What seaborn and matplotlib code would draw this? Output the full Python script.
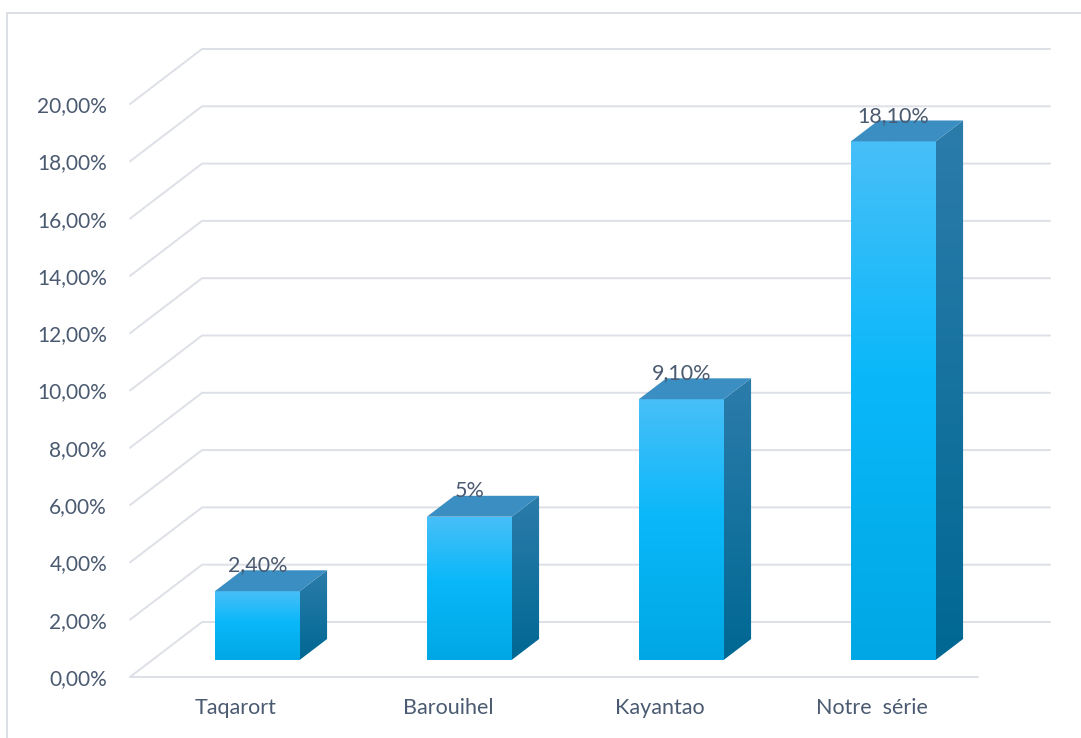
import numpy as np
import pandas as pd
import matplotlib
matplotlib.use("Agg")
import matplotlib.pyplot as plt
from matplotlib.patches import Polygon, Rectangle
from matplotlib.colors import LinearSegmentedColormap
import seaborn as sns

# ---- data ----
categories = ["Taqarort", "Barouihel", "Kayantao", "Notre  série"]
values = [2.4, 5.0, 9.1, 18.1]
value_labels = ["2,40%", "5%", "9,10%", "18,10%"]
y_ticks = [0, 2, 4, 6, 8, 10, 12, 14, 16, 18, 20]
y_tick_labels = ["0,00%", "2,00%", "4,00%", "6,00%", "8,00%", "10,00%",
                 "12,00%", "14,00%", "16,00%", "18,00%", "20,00%"]

# ---- style ----
sns.set_theme(style="white")
plt.rcParams["font.family"] = ["Lato", "DejaVu Sans"]
TEXT = "#4A5A70"
GRID = "#DDE0E6"

front_cmap = LinearSegmentedColormap.from_list(
    "front", [(0.0, "#48BFF8"), (0.45, "#0AB8FA"), (1.0, "#00A7E4")])
side_cmap = LinearSegmentedColormap.from_list(
    "side", ["#2C7CAA", "#006893"])
TOP_COLOR = "#3A8EC2"

W, H = 1081, 738
fig = plt.figure(figsize=(W / 100, H / 100), dpi=100)
fig.patch.set_facecolor("white")

# oblique projection: depth offsets in data units
ddx = 0.34          # categories
ddy = 1.92          # percent
xmin, xmax = -0.5, 3.5 + ddx
ymin, ymax = 0.0, 22.0
unit_x, unit_y = 212.0, 28.65   # pixels per data unit
ax = fig.add_axes([130 / W, (H - 677) / H,
                   (xmax - xmin) * unit_x / W, (ymax - ymin) * unit_y / H])

# ---- bars (front faces) ----
df = pd.DataFrame({"category": categories, "value": values})
sns.barplot(data=df, x="category", y="value", width=0.4, ax=ax,
            color="#00B0F0", zorder=3)

# back wall / side wall gridlines
for v in y_ticks:
    ax.plot([xmin, xmin + ddx, xmax], [v, v + ddy, v + ddy], color=GRID,
            lw=1.4, zorder=0, clip_on=False, solid_joinstyle="miter")
ax.plot([xmin, 3.5], [0, 0], color=GRID, lw=1.4, zorder=0, clip_on=False)

d0, d1 = 0.31, 0.69   # bars sit in the middle of the floor depth
dd = d1 - d0
grad = np.linspace(0, 1, 256).reshape(-1, 1)

for p, lab in zip(ax.patches, value_labels):
    x, w, h = p.get_x(), p.get_width(), p.get_height()
    x0 = x + d0 * ddx - 0.005
    y0 = d0 * ddy
    p.set_x(x0)
    p.set_y(y0)
    p.set_facecolor("none")
    p.set_edgecolor("none")
    x1, y1 = x0 + w, y0 + h

    # front face gradient
    im = ax.imshow(grad, cmap=front_cmap, aspect="auto",
                   extent=(x0, x1, y0, y1), origin="upper", zorder=3)
    im.set_clip_path(p)

    # side face
    side = Polygon([(x1, y0), (x1 + dd * ddx, y0 + dd * ddy),
                    (x1 + dd * ddx, y1 + dd * ddy), (x1, y1)],
                   closed=True, facecolor="none", edgecolor="none", zorder=3)
    ax.add_patch(side)
    ims = ax.imshow(grad, cmap=side_cmap, aspect="auto",
                    extent=(x1, x1 + dd * ddx, y0, y1 + dd * ddy),
                    origin="upper", zorder=3)
    ims.set_clip_path(side)

    # top face
    top = Polygon([(x0, y1), (x1, y1), (x1 + dd * ddx, y1 + dd * ddy),
                   (x0 + dd * ddx, y1 + dd * ddy)], closed=True,
                  facecolor=TOP_COLOR, edgecolor="none", zorder=4)
    ax.add_patch(top)

    # value label
    ax.text(x0 + w / 2, y1 + 0.9, lab, ha="center", va="center",
            fontsize=15.5, color=TEXT, zorder=6)

# ---- axes ----
ax.set_xlim(xmin, xmax)
ax.set_ylim(ymin, ymax)
ax.set_xlabel("")
ax.set_ylabel("")
ax.set_yticks(y_ticks)
ax.set_yticklabels(y_tick_labels)
ax.tick_params(axis="y", length=0, pad=16.5, labelsize=15, labelcolor=TEXT)
ax.tick_params(axis="x", length=0, pad=15, labelsize=15.5, labelcolor=TEXT)
for s in ax.spines.values():
    s.set_visible(False)
ax.patch.set_alpha(0)

# chart-area border
fig.add_artist(Rectangle((7 / W, -0.05), 1.1, (H - 13) / H + 0.05,
                         transform=fig.transFigure, fill=False,
                         edgecolor="#D9DCE2", lw=1.3))

fig.savefig("out.png", dpi=100)
